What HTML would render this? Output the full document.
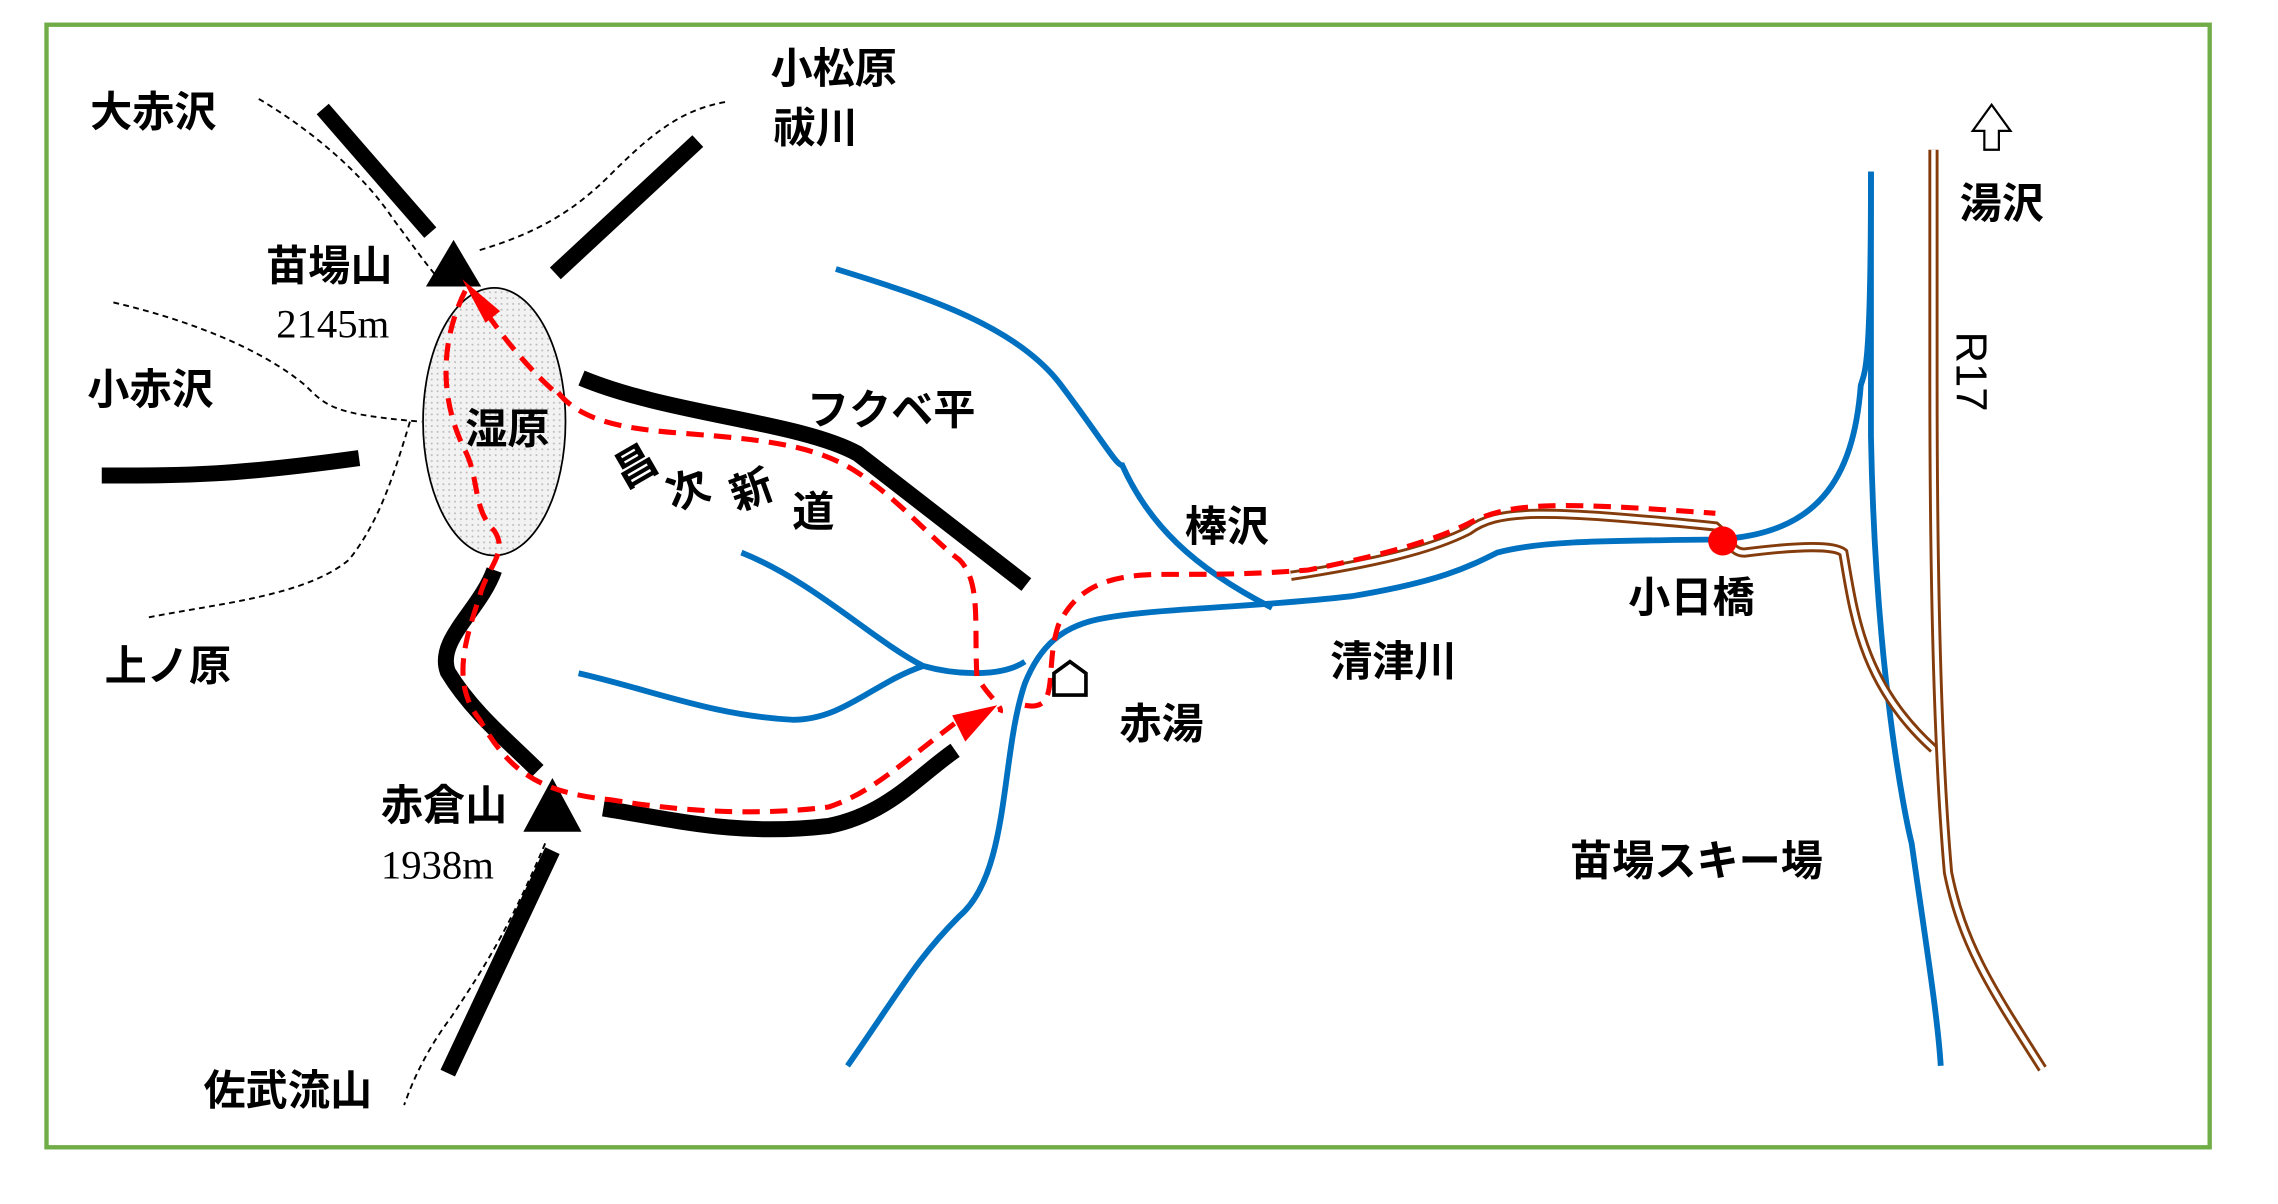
<!DOCTYPE html>
<html><head><meta charset="utf-8"><style>
html,body{margin:0;padding:0;background:#fff}
svg{display:block}
text{font-family:"Liberation Sans","Noto Sans CJK JP",sans-serif;font-weight:bold;font-size:29px;fill:#000}
.s{font-family:"Liberation Serif",serif;font-weight:normal;font-size:28px}
</style></head><body>
<svg width="2278" height="1204" viewBox="0 0 1567 828" preserveAspectRatio="none" xmlns="http://www.w3.org/2000/svg">
<defs><pattern id="dots" width="4" height="4" patternUnits="userSpaceOnUse"><rect width="4" height="4" fill="#f2f2f2"/><circle cx="1" cy="1" r="0.7" fill="#bbb"/></pattern></defs>
<rect x="32" y="17" width="1488" height="772" fill="none" stroke="#70ad47" stroke-width="3"/>
<g fill="none" stroke="#000" stroke-width="1.3" stroke-dasharray="4,3">
<path d="M178 68 C215 90 250 120 270 150 C285 170 295 185 305 195"/>
<path d="M330 172 C370 160 395 145 420 120 C450 90 470 75 500 70"/>
<path d="M78 208 C130 220 180 240 210 265 C225 280 230 285 290 290"/>
<path d="M282 290 C270 330 260 360 240 385 C210 410 150 415 100 425"/>
<path d="M375 580 C350 640 330 670 310 700 C295 720 285 740 278 760"/>
</g>
<g fill="none" stroke="#000" stroke-width="11">
<path d="M222 75 L296 160"/>
<path d="M382 188 L480 97"/>
<path d="M70 327 C130 327 160 327 247 315"/>
<path d="M400 260 C460 285 550 290 590 312 L706 402"/>
<path d="M340 392 C330 420 300 440 308 462 C325 490 350 510 370 530"/>
<path d="M308 738 L380 585"/>
<path d="M415 556 C470 565 510 575 570 568 C610 560 630 535 657 516"/>
</g>
<polygon points="312,165 293,197 331,197" fill="#000"/>
<polygon points="380,535 360,572 400,572" fill="#000"/>
<ellipse cx="340" cy="290" rx="49" ry="92" fill="url(#dots)" stroke="#000" stroke-width="1.2"/>
<g fill="none" stroke="#0070c0" stroke-width="4">
<path d="M575 185 C640 205 700 225 730 265 C760 305 768 320 772 320 C790 360 820 390 875 418"/>
<path d="M510 380 C560 400 600 440 635 458 C660 465 690 465 705 455"/>
<path d="M398 463 C450 475 490 492 545 495 C580 495 600 470 635 458"/>
<path d="M583 733 C620 680 630 660 660 630 C695 600 688 520 705 470 C715 445 730 430 760 425 C800 418 860 418 930 410 C990 400 1010 390 1030 380 C1060 372 1100 372 1180 371 C1250 368 1275 330 1280 265 C1283 255 1287 255 1287 118"/>
<path d="M1287 118 L1287 300 C1290 460 1310 560 1315 580 C1325 650 1333 700 1335 733"/>
</g>
<g fill="none" stroke="#843c0c" stroke-width="7"><path d="M1330 103 L1330 260 C1330 400 1333 520 1340 600 C1350 650 1370 680 1405 735"/>
<path d="M888 396 C960 385 990 375 1010 365 C1030 350 1060 350 1180 362 C1190 370 1190 380 1200 380 C1240 375 1262 375 1268 380 C1275 420 1280 470 1330 515"/></g>
<g fill="none" stroke="#fff" stroke-width="3"><path d="M1330 103 L1330 260 C1330 400 1333 520 1340 600 C1350 650 1370 680 1405 735"/>
<path d="M888 396 C960 385 990 375 1010 365 C1030 350 1060 350 1180 362 C1190 370 1190 380 1200 380 C1240 375 1262 375 1268 380 C1275 420 1280 470 1330 515"/></g>
<g fill="none" stroke="#ff0000" stroke-width="3.5" stroke-dasharray="12,7">
<path d="M380 268 C360 250 340 225 325 200"/>
<path d="M320 200 C305 230 300 270 320 310 C330 330 325 350 340 365 C350 380 335 390 330 410 C320 440 310 470 330 495 C350 530 370 545 420 550 C480 560 530 560 570 555 C600 545 620 525 660 495"/>
<path d="M384 270 C400 290 430 295 470 298 C520 302 560 305 590 325 C620 345 640 370 660 385 C675 400 670 430 672 465 C680 480 690 485 688 490"/>
<path d="M705 485 C730 490 718 460 728 430 C740 405 760 395 800 395 C840 395 860 395 900 392 C960 380 990 370 1010 360 C1040 345 1070 345 1180 353"/>
</g>
<polygon points="318,192 334,222 344,214" fill="#ff0000"/>
<polygon points="686,485 655,492 664,510" fill="#ff0000"/>
<circle cx="1185" cy="372" r="10" fill="#ff0000"/>
<path d="M725 478 L725 463 L736 455 L747 463 L747 478 Z" fill="#fff" stroke="#000" stroke-width="2.5"/>
<path d="M1365 103 L1365 90 L1357 90 L1370 72 L1383 90 L1375 90 L1375 103 Z" fill="#fff" stroke="#000" stroke-width="1.5"/>
<text x="62" y="87">大赤沢</text>
<text x="530" y="57">小松原</text>
<text x="532" y="98">祓川</text>
<text x="183" y="193">苗場山</text>
<text class="s" x="190" y="232">2145m</text>
<text x="60" y="278">小赤沢</text>
<text x="320" y="305">湿原</text>
<text x="555" y="292">フクベ平</text>
<text x="72" y="468">上ノ原</text>
<text x="262" y="564">赤倉山</text>
<text class="s" x="262" y="604">1938m</text>
<text x="140" y="760">佐武流山</text>
<text x="815" y="372">棒沢</text>
<text x="770" y="508">赤湯</text>
<text x="915" y="465">清津川</text>
<text x="1120" y="421">小日橋</text>
<text x="1080" y="602">苗場スキー場</text>
<text x="1348" y="150">湯沢</text>
<text x="422" y="332" transform="rotate(-30 434 320)">昌</text>
<text x="458" y="348" transform="rotate(-20 470 336)">次</text>
<text x="502" y="348" transform="rotate(-20 514 336)">新</text>
<text x="545" y="362">道</text>
<text x="1346" y="228" transform="rotate(90 1346 228)" style="font-weight:normal;font-size:30px">R17</text>
</svg>
</body></html>
